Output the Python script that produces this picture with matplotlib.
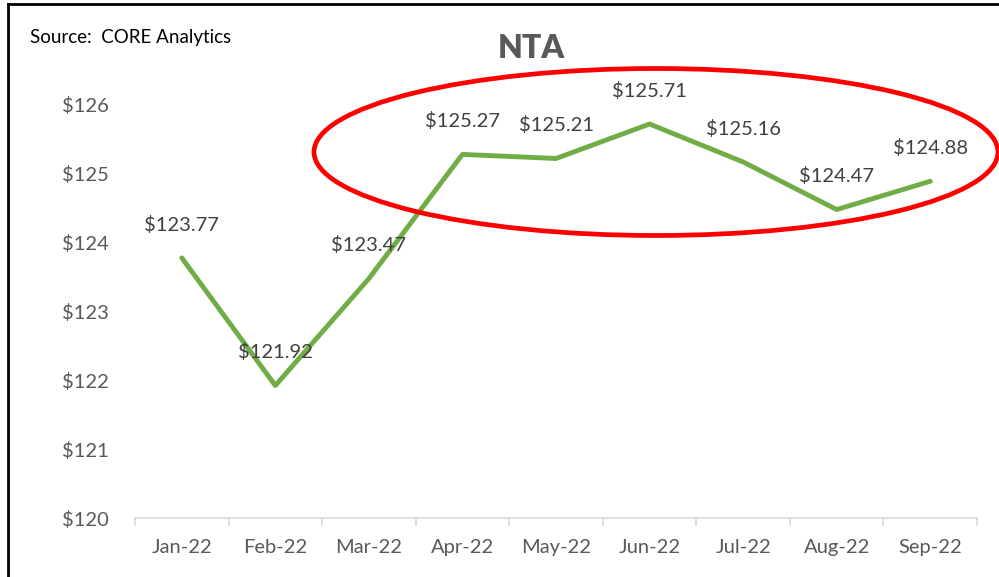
import matplotlib
matplotlib.use("Agg")
import matplotlib.pyplot as plt
from matplotlib.patches import Ellipse

months = ["Jan-22", "Feb-22", "Mar-22", "Apr-22", "May-22", "Jun-22", "Jul-22", "Aug-22", "Sep-22"]
nta = [123.77, 121.92, 123.47, 125.27, 125.21, 125.71, 125.16, 124.47, 124.88]
yticks = [120, 121, 122, 123, 124, 125, 126]

plt.rcParams['font.family'] = ['Lato', 'DejaVu Sans']

fig = plt.figure(figsize=(9.99, 5.77), dpi=100)
ax = fig.add_axes([135/999, 1-518/577, (977-135)/999, (518-104)/577])

x = list(range(len(months)))
ax.plot(x, nta, color="#70AD47", lw=3.5, solid_capstyle="round", solid_joinstyle="round", zorder=3)
for xi, v in zip(x, nta):
    ax.annotate(f"${v:.2f}", (xi, v), xytext=(0, 24), textcoords="offset points",
                ha="center", va="center", fontsize=14.5, color="#404040", annotation_clip=False)

ax.set_xlim(-0.5, len(months) - 0.5)
ax.set_ylim(120, 126)
ax.set_yticks(yticks)
ax.set_yticklabels([f"${t}" for t in yticks], fontsize=14.5, color="#595959")
ax.set_xticks(x)
ax.set_xticklabels(months, fontsize=14.5, color="#595959")
ax.tick_params(axis="y", length=0, pad=19)
ax.tick_params(axis="x", length=0, pad=15)
ax.set_xticks([i - 0.5 for i in range(len(months) + 1)], minor=True)
ax.tick_params(axis="x", which="minor", length=6, color="#D9D9D9", width=1.2, direction="out")
for s in ["top", "right", "left"]:
    ax.spines[s].set_visible(False)
ax.spines["bottom"].set_color("#D9D9D9")
ax.spines["bottom"].set_linewidth(1.2)

fig.text(531/999, 1-48/577, "NTA", ha="center", va="center", fontsize=23, fontweight="heavy", color="#595959")
fig.text(30/999, 1-38/577, "Source:  CORE Analytics", ha="left", va="center", fontsize=13.5, color="#000000")

ell = Ellipse((656/999, 1-152/577), 684/999, 167/577, transform=fig.transFigure,
              fill=False, edgecolor="#FF0000", lw=3.4, zorder=10)
fig.add_artist(ell)

fig.add_artist(plt.Line2D([8/999, 8/999], [0, 1-4/577], transform=fig.transFigure, color="black", lw=2))
fig.add_artist(plt.Line2D([8/999, 1], [1-4/577, 1-4/577], transform=fig.transFigure, color="black", lw=2))

fig.savefig("out.png", dpi=100)
